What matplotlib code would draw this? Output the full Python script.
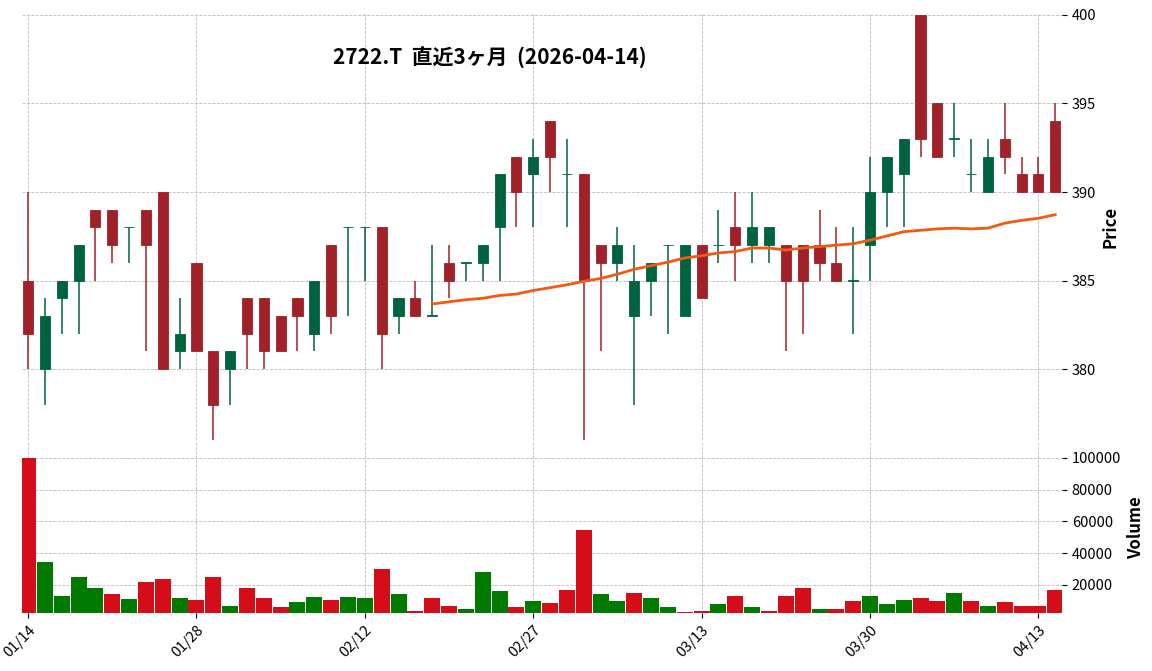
import matplotlib
matplotlib.use("Agg")
import matplotlib.pyplot as plt
import numpy as np
import pandas as pd

plt.rcParams['font.family'] = ['Noto Sans CJK JP', 'DejaVu Sans']

opens  = [385,380,384,385,389,389,388,389,390,381,386,381,380,384,384,383,384,382,387,388,
          388,388,383,384,383,386,386,386,388,392,391,394,391,391,387,386,383,385,387,383,
          387,387,388,387,387,387,387,387,386,385,387,390,391,400,395,393,391,390,393,391,
          391,394]
highs  = [390,384,385,387,389,389,388,389,390,384,386,381,381,384,384,383,384,385,387,388,
          388,388,384,385,387,387,386,387,391,392,393,394,393,391,387,388,387,386,387,387,
          387,389,390,390,388,387,387,389,388,388,392,392,393,400,395,395,393,393,395,392,
          392,395]
lows   = [380,378,382,382,385,386,386,381,380,380,381,376,378,380,380,381,381,381,382,383,
          385,380,382,383,383,384,385,385,385,388,388,390,388,376,381,385,378,383,382,383,
          384,386,385,386,386,381,382,385,385,382,385,388,388,392,392,392,390,390,391,390,
          390,390]
closes = [382,383,385,387,388,387,388,387,380,382,381,378,381,382,381,381,383,385,383,388,
          388,382,384,383,383,385,386,387,391,390,392,392,391,385,386,387,385,386,387,387,
          384,387,387,388,388,385,385,386,385,385,390,392,393,393,392,393,391,392,392,390,
          390,390]
volumes = [100000,34500,13000,25000,18000,14000,11000,22000,24000,12000,10500,25000,6500,18000,12000,6000,
           9000,12500,10500,12500,12000,30000,14000,3500,12000,6500,5000,28000,16000,6000,10000,8500,
           17000,54500,14000,10000,15000,12000,6000,3000,3500,8000,13000,6000,3500,13000,18000,5000,
           5000,10000,13000,8000,10500,12000,10000,15000,10000,6500,9000,6500,7000,17000]
# 1 = volume bar drawn as up day, 0 = down day
vol_up = [0,1,1,1,1,0,1,0,0,1,0,0,1,0,0,0,1,1,0,1,
          1,0,1,0,0,0,1,1,1,0,1,0,0,0,1,1,0,1,1,0,
          0,1,0,1,0,0,0,1,0,0,1,1,1,0,0,1,0,1,0,0,
          0,0]

dates = pd.bdate_range("2026-01-14", "2026-04-14")
holidays = pd.to_datetime(["2026-02-11", "2026-02-23", "2026-03-20"])
dates = dates[~dates.isin(holidays)]
tick_idx = [0, 10, 20, 30, 40, 50, 60]

UP, DOWN = '#006340', '#A02128'
VUP, VDOWN = '#007a00', '#d50d18'

fig = plt.figure(figsize=(11.52, 6.71), dpi=100)
W, H = 1152, 671
axp = fig.add_axes([22/W, 1-440/H, 1040/W, 426/H])
axv = fig.add_axes([22/W, 1-613/H, 1040/W, 171/H], sharex=axp)

x = np.arange(len(closes))
o = np.array(opens); c = np.array(closes); h = np.array(highs); l = np.array(lows)
up = c >= o
cols = np.where(up, UP, DOWN)
axp.vlines(x, l, h, colors=cols, linewidth=1.1, zorder=2)
bottoms = np.minimum(o, c)
heights = np.abs(c - o)
heights = np.where(heights == 0, 0.03, heights)
axp.bar(x, heights, bottom=bottoms, width=0.6, color=cols, edgecolor=cols, linewidth=0.6, zorder=3)
ma = pd.Series(c).rolling(25).mean()
axp.plot(x, ma, color='#f05a14', linewidth=2, zorder=4)

vcols = np.where(np.array(vol_up) == 1, VUP, VDOWN)
axv.bar(x, volumes, width=0.95, color=vcols, zorder=2)

for ax in (axp, axv):
    for s in ax.spines.values():
        s.set_visible(False)
    ax.grid(True, linestyle='--', linewidth=0.6, color='#bbbbbb', zorder=0)
    ax.yaxis.tick_right()
    ax.yaxis.set_label_position('right')
    ax.tick_params(labelsize=10.5)

axp.set_xlim(-0.36, 61.4)
axp.set_ylim(376, 400.05)
axp.set_yticks([380, 385, 390, 395, 400])
axp.set_ylabel('Price', fontsize=12, fontweight='bold')
axp.tick_params(axis='x', labelbottom=False, length=0)

axv.set_ylim(2300, 110000)
axv.set_yticks([20000, 40000, 60000, 80000, 100000])
axv.set_ylabel('Volume', fontsize=12, fontweight='bold')
axv.set_xticks(tick_idx)
axv.set_xticklabels([dates[i].strftime('%m/%d') for i in tick_idx], rotation=45, ha='right', rotation_mode='anchor')

fig.text(490/W, 1-57/H, '2722.T  直近3ヶ月  (2026-04-14)', ha='center', va='center',
         fontsize=15, fontweight='bold')

fig.savefig('out.png', dpi=100)
